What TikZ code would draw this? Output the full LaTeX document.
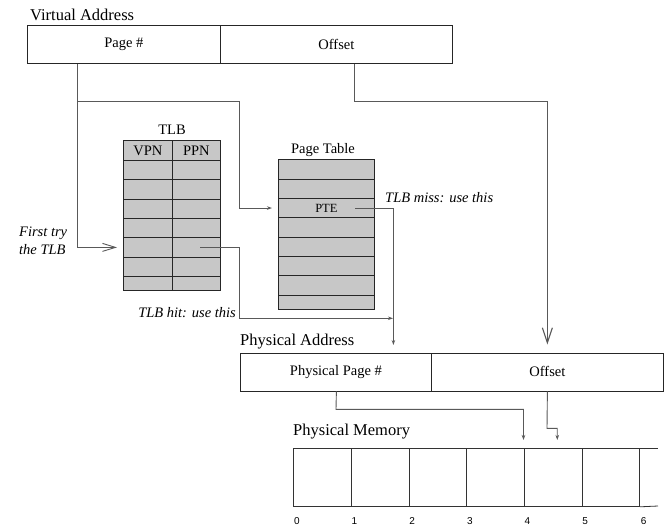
\documentclass[tikz,border=0pt]{standalone}
\usepackage{fontspec}
\setmainfont{Liberation Serif}
\newfontfamily\numfam{Liberation Sans}
\usetikzlibrary{arrows.meta}
\newcommand\vbig{\fontsize{16.5}{19}\selectfont}
\newcommand\vmed{\fontsize{14.5}{17}\selectfont}
\newcommand\vsml{\fontsize{12.5}{15}\selectfont}
\newcommand\vita{\fontsize{14.5}{18}\selectfont\itshape}
\newcommand\vnum{\fontsize{10}{12}\selectfont\numfam}
\begin{document}
\begin{tikzpicture}[x=1pt,y=-1pt,
  cell/.style={draw=black!85, line width=0.8pt, inner sep=0pt, anchor=north west},
  gcell/.style={cell, fill=black!22},
  conn/.style={draw=black!65, line width=0.9pt},
  tip/.style={-{Stealth[length=5pt,width=3.5pt]}},
  lbl/.style={inner sep=0pt}]
\useasboundingbox (0,0) rectangle (672,531);
\fill[white] (0,0) rectangle (672,531);

% Virtual address
\node[lbl, anchor=west, font=\vbig] (vatitle) at (30,15) {Virtual Address};
\node[cell, minimum width=193pt, minimum height=38pt, font=\vmed] (vapage) at (27,25) {Page \#};
\node[cell, minimum width=232pt, minimum height=38pt, font=\vmed] (vaoff) at (220,25) {Offset};

% TLB
\node[lbl, font=\vmed] (tlbtitle) at (172,130) {TLB};
\node[gcell, minimum width=49pt, minimum height=20pt, font=\vmed] (vpn) at (123,140) {VPN};
\node[gcell, minimum width=48pt, minimum height=20pt, font=\vmed] (ppn) at (172,140) {PPN};
\foreach \i in {1,...,6}{
  \node[gcell, minimum width=49pt, minimum height=19.33pt] (tlbL\i) at (123,{160+(\i-1)*19.33}) {};
  \node[gcell, minimum width=48pt, minimum height=19.33pt] (tlbR\i) at (172,{160+(\i-1)*19.33}) {};
}
\node[gcell, minimum width=49pt, minimum height=14.0pt] (tlbL7) at (123,276) {};
\node[gcell, minimum width=48pt, minimum height=14.0pt] (tlbR7) at (172,276) {};

% Page table
\node[lbl, font=\vmed] (pttitle) at (323,150) {Page Table};
\foreach \i in {1,...,7}{
  \node[gcell, minimum width=96pt, minimum height=19.33pt] (pt\i) at (278,{159.3+(\i-1)*19.33}) {};
}
\node[gcell, minimum width=96pt, minimum height=14pt] (pt8) at (278,295.3) {};
\node[lbl, font=\vsml] (pte) at (pt3.center) {PTE};

% labels
\node[lbl, font=\vita, align=left, anchor=west] (first) at (19,241) {First try\\the TLB};
\node[lbl, font=\vita, anchor=east] (hit) at (236,312.5) {TLB hit: use this};
\node[lbl, font=\vita, anchor=west] (miss) at (385,198) {TLB miss: use this};

% Physical address
\node[lbl, anchor=west, font=\vbig] (patitle) at (240,342) {Physical Address};
\node[cell, minimum width=191pt, minimum height=38pt, font=\vmed] (papage) at (240,352.5) {Physical Page \#};
\node[cell, minimum width=232pt, minimum height=38pt, font=\vmed] (paoff) at (431,352.5) {Offset};

% Physical memory
\node[lbl, anchor=west, font=\vbig] (pmtitle) at (293,432) {Physical Memory};
\foreach \i in {0,...,5}{
  \node[cell, draw=black!80, minimum width=57.67pt, minimum height=58pt] (mem\i) at ({293.3+\i*57.67},448) {};
}
\coordinate (memtopend) at (658,448);
\coordinate (membotend) at (658,506);
\draw[black!80, line width=0.8pt] (mem5.north east) -- (memtopend);
\draw[black!80, line width=0.8pt] (mem5.south east) -- (membotend);
\foreach \i in {0,...,5}{
  \node[lbl, font=\vnum] (num\i) at ([shift={(3.5,14)}]mem\i.south west) {\i};
}
\node[lbl, font=\vnum] (num6) at ([shift={(3.5,14)}]mem5.south east) {6};

% connectors
\coordinate (j1) at (77,101);
\coordinate (j2) at (239,101);
\draw[conn, -{Straight Barb[length=13pt,width=8pt,line width=0.9pt]}]
  ([shift={(50,0)}]vapage.south west) |- ([shift={(-6,0)}]tlbL5.west);
\draw[conn, tip] (j1) -- (j2) |- ([shift={(-6,0)}]pt3.west);

\coordinate (hitbend) at (239,318.3);
\coordinate (hitend) at (393,318.3);
\draw[conn, tip] ([shift={(4,0)}]tlbR5.center) -| (hitbend) -- (hitend);

\draw[conn, tip] ([shift={(29,0)}]pt3.center) -| ([shift={(57.5,-7.5)}]papage.north);

\coordinate (o1) at (354,101);
\draw[conn, -{Straight Barb[length=15pt,width=10pt,line width=1.1pt]}]
  ([shift={(134,0)}]vaoff.south west) -- (o1) -| ([shift={(0,-8)}]paoff.north);

\coordinate (p1) at (336,409.3);
\draw[conn, tip] ([shift={(0.5,0)}]papage.south) -- (p1) -| ([shift={(-0.5,-8)}]mem4.north west);

\coordinate (q1) at (547,428.3);
\draw[conn, tip] (paoff.south) -- (q1) -| ([shift={(33.3,-8)}]mem4.north west);
\end{tikzpicture}
\end{document}
